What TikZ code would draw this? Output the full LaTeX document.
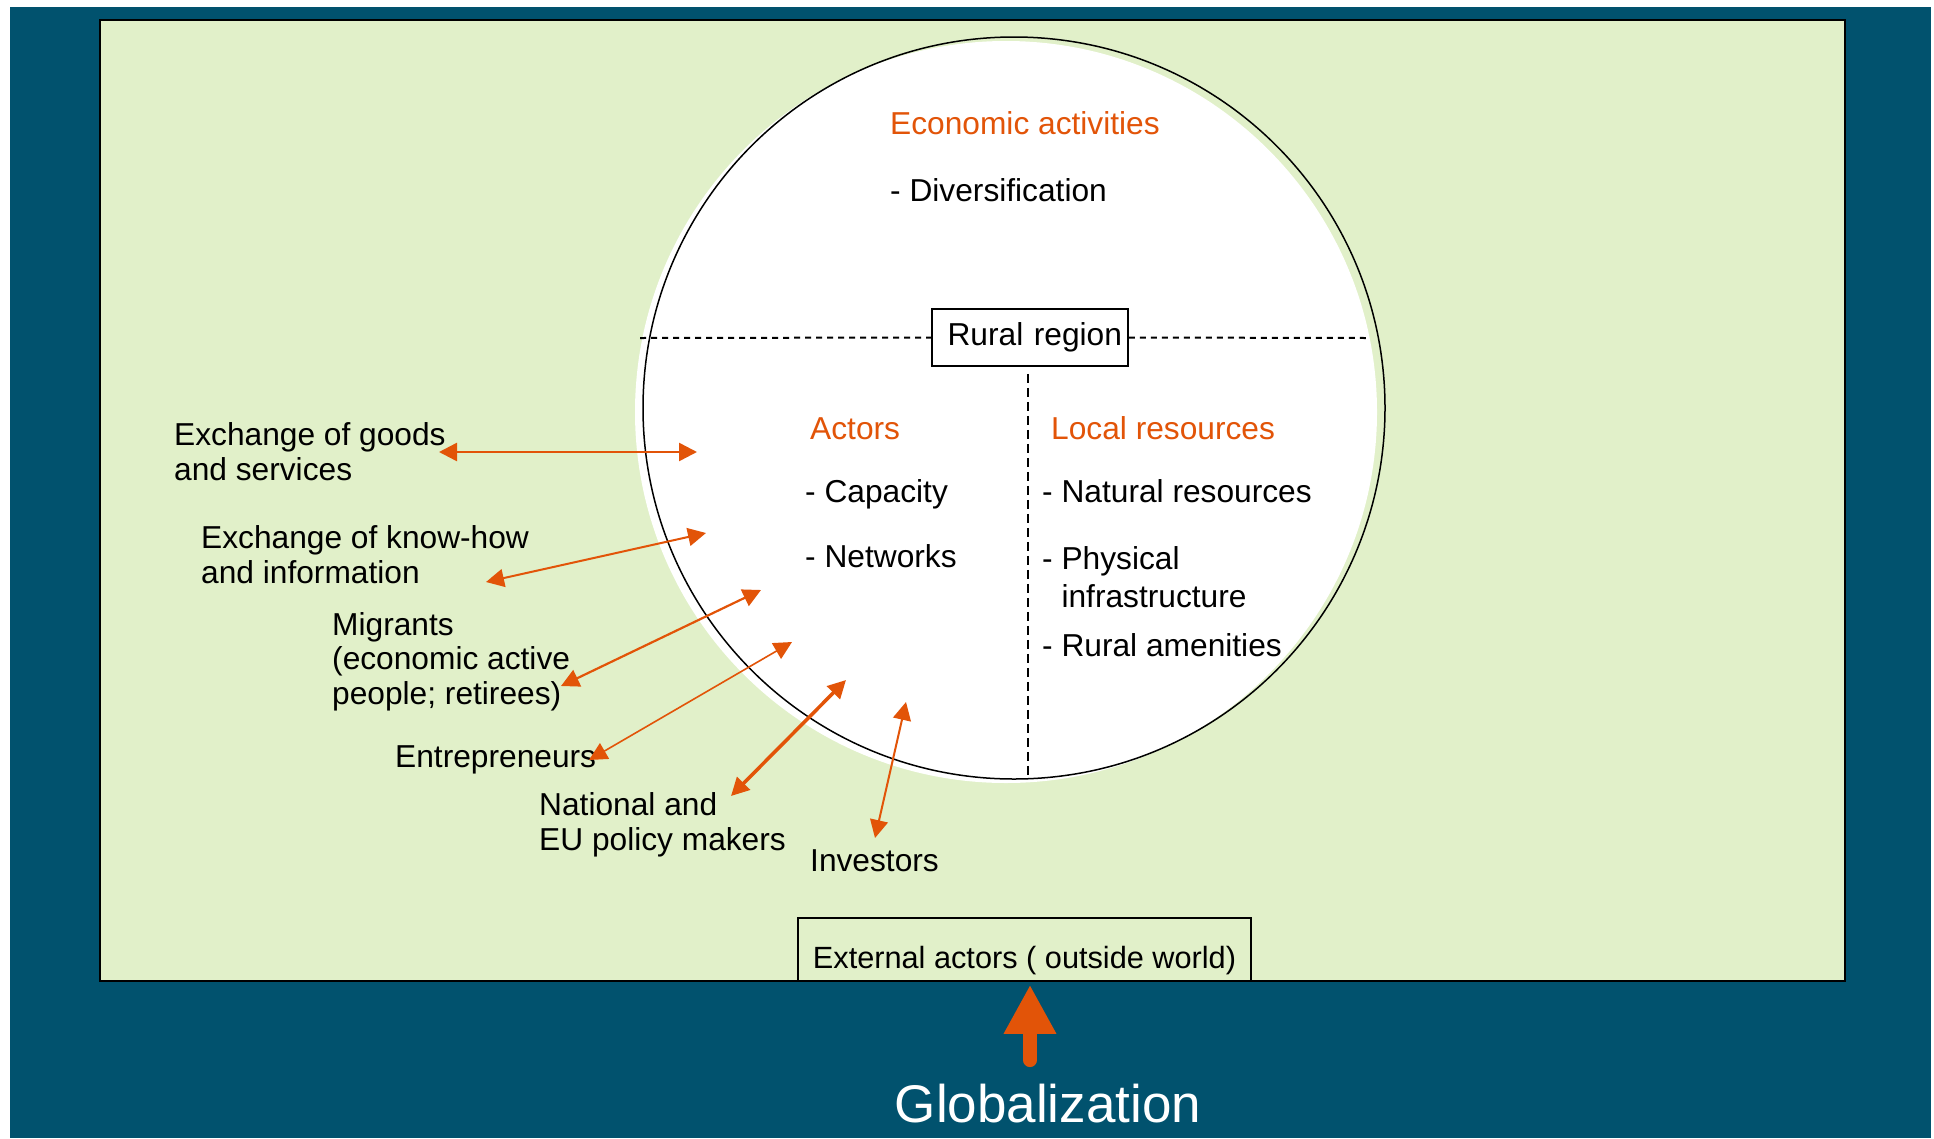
\documentclass[tikz,border=0pt]{standalone}
\usepackage{fontspec}
\setmainfont{Liberation Sans}
\usetikzlibrary{arrows.meta}

\definecolor{bgblue}{RGB}{1,82,110}
\definecolor{panelgreen}{RGB}{225,240,201}
\definecolor{orng}{RGB}{226,84,8}

\begin{document}
\begin{tikzpicture}[x=1pt,y=-1pt,
  txt/.style={anchor=base west,inner sep=0pt,align=left,font=\fontsize{31.7}{34.5}\selectfont},
  head/.style={txt,text=orng},
  link/.style={orng,line width=2pt,{Triangle[length=18pt,width=18pt]}-{Triangle[length=18pt,width=18pt]}}]

\useasboundingbox (0,0) rectangle (1934,1138);
\fill[bgblue] (10,7) rectangle (1931,1138);
\draw[line width=2pt,fill=panelgreen] (100,20) rectangle (1845,981);

% the rural region
\fill[white] (1006,412) circle (371);
\draw[line width=1.5pt] (1014,408) circle (371);

\node[draw,line width=1.5pt,fill=white,minimum height=57pt,text width=184pt,inner xsep=6pt,align=right,
  font=\fontsize{31.7}{34.5}\selectfont] (rural) at (1030,337.5) {Rural region};
\draw[line width=2pt,dash pattern=on 6pt off 5pt] (640,338) -- (rural.west);
\draw[line width=2pt,dash pattern=on 6pt off 5pt] (rural.east) -- (1367,338);
\draw[line width=2pt,dash pattern=on 9pt off 5pt] ([xshift=-2pt,yshift=-7pt]rural.south) -- (1028,777);

\node[head] (econ) at (890,134) {Economic activities};
\node[txt] (divers) at (890,201) {- Diversification};

\node[head] (actors) at (810,439) {Actors};
\node[txt] (capacity) at (805,502) {- Capacity};
\node[txt] (networks) at (805,567) {- Networks};

\node[head] (locres) at (1051,439) {Local resources};
\node[txt] (natural) at (1042,502) {- Natural resources};
\node[txt,font=\fontsize{31.7}{37.5}\selectfont] (physical) at (1042,607) {- Physical\\\phantom{- }infrastructure};
\node[txt] (amenities) at (1042,656) {- Rural amenities};

% outside actors (base = last line)
\node[txt] (goods) at (174,480) {Exchange of goods\\and services};
\node[txt] (knowhow) at (201,583) {Exchange of know-how\\and information};
\node[txt] (migrants) at (332,704) {Migrants\\(economic active\\people; retirees)};
\node[txt] (entre) at (395,767) {Entrepreneurs};
\node[txt] (policy) at (539,850) {National and\\EU policy makers};
\node[txt] (investors) at (810,871) {Investors};

\coordinate (goodsout) at (439,452);   \coordinate (goodsin) at (697,452);
\coordinate (knowout) at (486,582);    \coordinate (knowin) at (706,533);
\coordinate (migout) at (561,686);     \coordinate (migin) at (761,590);
\coordinate (entreout) at (589,760);   \coordinate (entrein) at (792,642);
\coordinate (policyout) at (731,796);  \coordinate (policyin) at (846,680);
\coordinate (investout) at (875,838);  \coordinate (investin) at (906,702);

\draw[link,line width=2.5pt] (goodsout) -- (goodsin);
\draw[link] (knowout) -- (knowin);
\draw[link,line width=2.2pt] (migout) -- (migin);
\draw[link,line width=1.6pt] (entreout) -- (entrein);
\draw[link,line width=3.5pt] (policyout) -- (policyin);
\draw[link] (investout) -- (investin);

\node[draw,line width=1.5pt,inner xsep=0pt,inner ysep=0pt,minimum width=453pt,text height=50pt,text depth=13pt,
  font=\fontsize{30.7}{34}\selectfont] (ext) at (1024.5,949.5) {External actors ( outside world)};

\node[anchor=base,text=white,font=\fontsize{53}{60}\selectfont] (glob) at (1048,1122) {Globalization};
\draw[orng,line width=14pt,line cap=round,-{Triangle[length=49pt,width=49pt]}]
  ([xshift=-18pt,yshift=20pt]glob.north) -- ([xshift=5.5pt,yshift=-3pt]ext.south);

\end{tikzpicture}
\end{document}
